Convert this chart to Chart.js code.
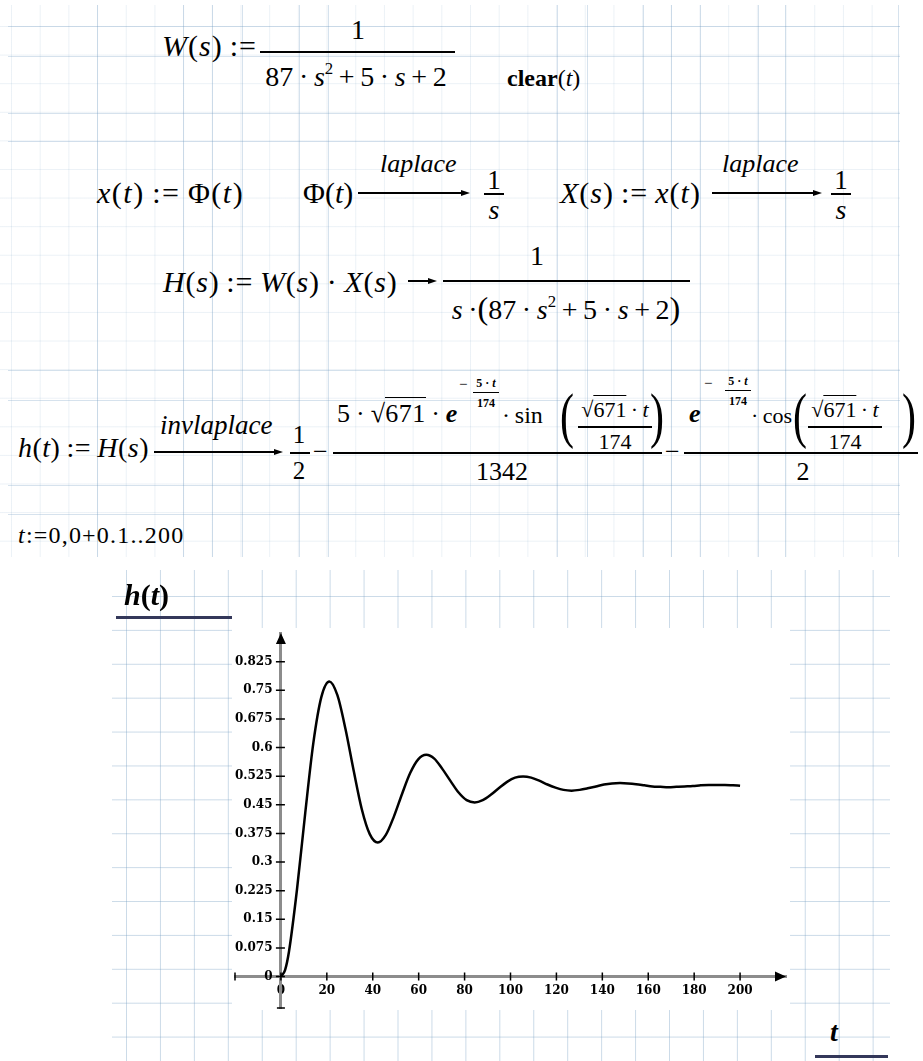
<!DOCTYPE html>
<html>
<head>
<meta charset="utf-8">
<script src="https://cdn.jsdelivr.net/npm/chart.js@4"></script>
<style>
  body { margin: 0; background: #fff; }
  #page { position: relative; width: 923px; height: 1061px; overflow: hidden; background: #fff; }
  .grid { position: absolute; }
  #gridTop {
    left: 0; top: 5px; width: 900px; height: 552px;
    background-image:
      linear-gradient(to right, rgba(120,160,195,0.14) 1px, transparent 1px),
      linear-gradient(to bottom, rgba(120,160,195,0.14) 1px, transparent 1px);
    background-size: 28.7px 28.6px;
    background-position: 11px 21px;
  }
  #gridBottom {
    left: 112px; top: 570px; width: 778px; height: 491px;
    background-image:
      linear-gradient(to right, rgba(120,160,195,0.38) 1px, transparent 1px),
      linear-gradient(to bottom, rgba(120,160,195,0.38) 1px, transparent 1px);
    background-size: 33.95px 33.9px;
    background-position: 14px 26px;
  }
  .gl { position: absolute; background: rgba(120,160,195,0.3); }
  #plotBg { position: absolute; left: 232px; top: 628px; width: 558px; height: 382px; background: #fff; }
  #chart { position: absolute; left: 200px; top: 600px; }
  .m { position: absolute; white-space: nowrap; line-height: 1; font-family: 'Liberation Serif', serif; color: #000; }
  .c { transform: translateX(-50%); }
  .m sup { font-size: 0.6em; position: relative; top: -0.15em; vertical-align: super; line-height: 0; }
  .ov { border-top: 1.4px solid #000; padding-top: 1px; }
  .bar { position: absolute; background: #000; }
  .head { position: absolute; width: 0; height: 0; border-left: 9px solid #000; border-top: 3.5px solid transparent; border-bottom: 3.5px solid transparent; }
  .paren { transform: scaleY(1.45); transform-origin: 50% 70%; }
</style>
</head>
<body>
<div id="page">
  <div class="grid" id="gridTop"></div>
  <div class="grid" id="gridBottom"></div>
  <div id="plotBg"></div>
  <canvas id="chart" width="620" height="440"></canvas>
</div>
<script>
// h(t)
const tValues = [0, 1.8, 3.5, 7.0, 10.6, 14.1, 17.6, 21.1, 24.6, 28.1, 31.7, 35.2, 38.7, 42.2,
  45.7, 49.2, 52.8, 56.3, 59.8, 63.3, 66.8, 70.3, 73.9, 77.4, 80.9, 84.4, 87.9, 91.4, 95.0,
  98.5, 102.0, 105.5, 109.0, 112.5, 116.1, 119.6, 123.1, 126.6, 130.1, 133.6, 137.2, 140.7,
  144.2, 147.7, 151.2, 154.7, 158.3, 161.8, 165.3, 168.8, 172.3, 175.8, 179.4, 182.9, 186.4,
  189.9, 193.4, 196.9, 200];
const hValues = [0, 0.017, 0.065, 0.228, 0.429, 0.611, 0.732, 0.773, 0.737, 0.649, 0.539, 0.439, 0.373, 0.351,
  0.371, 0.419, 0.479, 0.533, 0.569, 0.581, 0.571, 0.544, 0.512, 0.482, 0.462, 0.456, 0.462, 0.476, 0.494,
  0.510, 0.521, 0.524, 0.521, 0.513, 0.503, 0.495, 0.489, 0.487, 0.489, 0.493, 0.498, 0.503,
  0.506, 0.507, 0.506, 0.504, 0.501, 0.498, 0.497, 0.496, 0.497, 0.498, 0.499, 0.501, 0.502,
  0.502, 0.502, 0.501, 0.500];
const xTicks = [0, 20, 40, 60, 80, 100, 120, 140, 160, 180, 200];
const yTicks = [0, 0.075, 0.15, 0.225, 0.3, 0.375, 0.45, 0.525, 0.6, 0.675, 0.75, 0.825];
const yTickLabels = ['0', '0.075', '0.15', '0.225', '0.3', '0.375', '0.45', '0.525', '0.6', '0.675', '0.75', '0.825'];

const page = document.getElementById('page');

// stronger worksheet grid lines in the upper part
[97, 183, 212, 242, 299, 328, 557, 587, 643, 671, 700, 758, 785, 898].forEach(x => {
  const d = document.createElement('div');
  d.className = 'gl';
  d.style.cssText = `left:${x}px;top:5px;width:1px;height:552px`;
  page.appendChild(d);
});
[26, 56, 113, 141, 370, 400, 485, 514].forEach(y => {
  const d = document.createElement('div');
  d.className = 'gl';
  d.style.cssText = `left:8px;top:${y}px;width:892px;height:1px`;
  page.appendChild(d);
});

function put(x, base, size, html, center) {
  const d = document.createElement('div');
  d.className = center ? 'm c' : 'm';
  d.style.left = x + 'px';
  d.style.top = (base - 0.84 * size) + 'px';
  d.style.fontSize = size + 'px';
  d.innerHTML = html;
  page.appendChild(d);
  return d;
}
function hline(x1, x2, y, w, color) {
  w = w || 1.4;
  const d = document.createElement('div');
  d.className = 'bar';
  d.style.left = x1 + 'px';
  d.style.top = (y - w / 2) + 'px';
  d.style.width = (x2 - x1) + 'px';
  d.style.height = w + 'px';
  if (color) d.style.background = color;
  page.appendChild(d);
}
function arrow(x1, x2, y) {
  hline(x1, x2 - 6, y, 1.2);
  const h = document.createElement('div');
  h.className = 'head';
  h.style.left = (x2 - 9) + 'px';
  h.style.top = (y - 3.5) + 'px';
  page.appendChild(h);
}
function paren(x, base, ch) {
  put(x, base, 42, `<div class="paren">${ch}</div>`);
}

// W(s)
put(162, 56, 30, '<i>W</i>(<i>s</i>)&thinsp;:=').style.letterSpacing = '1px';
put(358, 40, 28, '1', true);
hline(260, 455, 52, 1.5);
put(356, 87, 28, '87&thinsp;·&thinsp;<i>s</i><sup>2</sup>&thinsp;+&thinsp;5&thinsp;·&thinsp;<i>s</i>&thinsp;+&thinsp;2', true);
put(507, 86, 24, '<b>clear</b>(<i>t</i>)');

// x(t), X(s)
put(97, 203, 30, '<i>x</i>(<i>t</i>)&thinsp;:=&thinsp;Φ(<i>t</i>)').style.letterSpacing = '1.5px';
put(303, 203, 30, 'Φ(<i>t</i>)');
arrow(358, 470, 193);
put(380, 173, 26, '<i>laplace</i>');
put(494, 190, 27, '1', true);
hline(484, 504, 194);
put(494, 220, 28, '<i>s</i>', true);
put(560, 203, 30, '<i>X</i>(<i>s</i>)&thinsp;:=&thinsp;<i>x</i>(<i>t</i>)').style.letterSpacing = '1px';
arrow(712, 822, 193);
put(722, 173, 26, '<i>laplace</i>');
put(841, 190, 27, '1', true);
hline(831, 851, 194);
put(841, 220, 28, '<i>s</i>', true);

// H(s)
put(163, 292, 30, '<i>H</i>(<i>s</i>)&thinsp;:=&thinsp;<i>W</i>(<i>s</i>)&thinsp;·&thinsp;<i>X</i>(<i>s</i>)').style.letterSpacing = '0.8px';
arrow(408, 437, 281);
put(537, 266, 28, '1', true);
hline(443, 690, 281, 1.5);
put(566, 316, 28, '<i>s</i>&thinsp;·<span style="font-size:1.15em">(</span>87&thinsp;·&thinsp;<i>s</i><sup>2</sup>&thinsp;+&thinsp;5&thinsp;·&thinsp;<i>s</i>&thinsp;+&thinsp;2<span style="font-size:1.15em">)</span>', true);

// h(t)
put(18, 458, 28, '<i>h</i>(<i>t</i>)&thinsp;:=&thinsp;<i>H</i>(<i>s</i>)').style.letterSpacing = '0.5px';
arrow(154, 283, 452);
put(160, 435, 27, '<i>invlaplace</i>');
put(299, 443, 25, '1', true);
hline(290, 310, 453);
put(299, 479, 25, '2', true);
put(313, 461, 26, '−');
hline(333, 662, 453, 1.5);
put(337, 423, 26, '5&thinsp;·&thinsp;√<span class="ov">671</span>&thinsp;·&thinsp;<b><i>e</i></b>').style.letterSpacing = '0.4px';
put(459, 390, 15, '−');
put(486, 387, 12, '<b>5 · <i>t</i></b>', true);
hline(473, 499, 392, 1);
put(486, 407, 12, '<b>174</b>', true);
put(502, 423, 24, '·&thinsp;sin');
paren(560, 433, '(');
paren(650, 433, ')');
put(615, 417, 22, '√<span class="ov">671</span>&thinsp;·&thinsp;<i>t</i>', true);
hline(578, 652, 427, 1.3);
put(615, 449, 22, '174', true);
put(502, 481, 26, '1342', true);
put(665, 461, 26, '−');
hline(684, 918, 453, 1.5);
put(689, 423, 26, '<b><i>e</i></b>');
put(704, 389, 15, '−');
put(738, 385, 12, '<b>5 · <i>t</i></b>', true);
hline(725, 751, 390, 1);
put(738, 405, 12, '<b>174</b>', true);
put(751, 423, 22, '·&thinsp;cos');
paren(793, 433, '(');
paren(902, 433, ')');
put(845, 417, 22, '√<span class="ov">671</span>&thinsp;·&thinsp;<i>t</i>', true);
hline(808, 882, 427, 1.3);
put(845, 449, 22, '174', true);
put(803, 481, 26, '2', true);

// range variable
put(18, 543, 24, '<i>t</i>:=0,0+0.1..200').style.letterSpacing = '1.2px';

// plot axis labels
put(124, 605, 30, '<b><i>h</i>(<i>t</i>)</b>');
hline(116, 232, 617, 3, '#34385a');
put(830, 1042, 28, '<b><i>t</i></b>');
hline(815, 888, 1056, 3, '#34385a');

const axisMarks = {
  id: 'axisMarks',
  afterDraw(chart) {
    const { ctx, chartArea, scales: { x, y } } = chart;
    const x0 = x.getPixelForValue(0);
    const y0 = y.getPixelForValue(0);
    ctx.save();
    ctx.strokeStyle = '#000';
    ctx.lineWidth = 1.5;
    ctx.beginPath();
    xTicks.forEach(v => {
      const px = x.getPixelForValue(v);
      ctx.moveTo(px, y0 - 4);
      ctx.lineTo(px, y0 + 4);
    });
    yTicks.forEach(v => {
      const py = y.getPixelForValue(v);
      ctx.moveTo(x0 - 5, py);
      ctx.lineTo(x0 + 4, py);
    });
    ctx.moveTo(chartArea.left, y0 - 4);
    ctx.lineTo(chartArea.left, y0 + 4);
    ctx.moveTo(x0 - 4, chartArea.bottom);
    ctx.lineTo(x0 + 4, chartArea.bottom);
    ctx.stroke();
    ctx.fillStyle = '#000';
    ctx.beginPath();
    ctx.moveTo(x0, chartArea.top);
    ctx.lineTo(x0 - 5, chartArea.top + 11);
    ctx.lineTo(x0 + 5, chartArea.top + 11);
    ctx.closePath();
    ctx.moveTo(chartArea.right, y0);
    ctx.lineTo(chartArea.right - 11, y0 - 5);
    ctx.lineTo(chartArea.right - 11, y0 + 5);
    ctx.closePath();
    ctx.fill();
    ctx.restore();
  }
};

const tickFont = { family: 'DejaVu Serif', size: 12, weight: 'bold' };

new Chart(document.getElementById('chart').getContext('2d'), {
  type: 'line',
  data: {
    datasets: [{
      data: tValues.map((t, i) => ({ x: t, y: hValues[i] })),
      borderColor: '#000',
      borderWidth: 2.5,
      pointRadius: 0,
      cubicInterpolationMode: 'monotone',
      fill: false
    }]
  },
  options: {
    responsive: false,
    animation: false,
    events: [],
    layout: { padding: { left: 35, top: 33, right: 34, bottom: 32 } },
    plugins: { legend: { display: false }, tooltip: { enabled: false } },
    scales: {
      x: {
        type: 'linear',
        min: -20,
        max: 220,
        position: { y: 0 },
        afterFit: s => { s.height = 0; },
        afterBuildTicks: s => { s.ticks = xTicks.map(v => ({ value: v })); },
        grid: { display: false, drawTicks: false },
        border: { display: true, color: '#8c8c8c', width: 3 },
        ticks: { color: '#000', font: tickFont, padding: 7, maxRotation: 0, autoSkip: false }
      },
      y: {
        type: 'linear',
        min: -0.0825,
        max: 0.9,
        position: { x: 0 },
        afterFit: s => { s.width = 0; },
        afterBuildTicks: s => { s.ticks = yTicks.map(v => ({ value: v })); },
        grid: { display: false, drawTicks: false },
        border: { display: true, color: '#8c8c8c', width: 3 },
        ticks: {
          color: '#000',
          font: tickFont,
          autoSkip: false,
          callback: (v, i) => yTickLabels[i] + '  '
        }
      }
    }
  },
  plugins: [axisMarks]
});
</script>
</body>
</html>
